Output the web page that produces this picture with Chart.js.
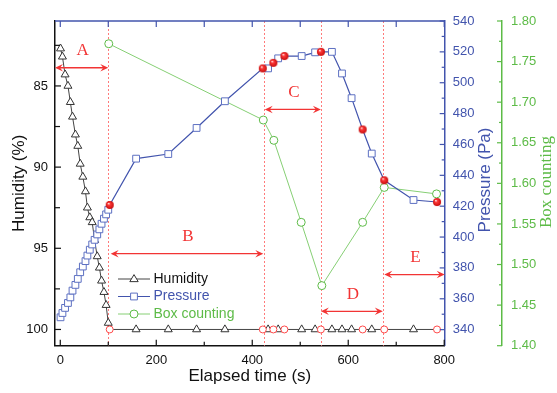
<!DOCTYPE html>
<html>
<head>
<meta charset="utf-8">
<title>Drying</title>
<script src="https://cdn.jsdelivr.net/npm/chart.js@4.4.1/dist/chart.umd.min.js"></script>
<style>
html, body { margin: 0; padding: 0; background: #fff; }
#graficoSecado { display: block; }
</style>
</head>
<body>
<canvas id="graficoSecado" width="557" height="393"></canvas>
<script>
// sensor readings: humidity and pressure share the same timestamps (s)
var sensorTime = [0.5, 4.5, 10, 16, 21, 25.5, 31.5, 36.5, 41.5, 47, 52.5, 56.5, 61.5, 66.5, 71.5, 77, 81.5, 86, 91, 95.5, 100,
                  158, 225, 284, 343, 433, 454, 503, 531, 566, 587, 607, 649, 736];
var humidity = [82.7, 83.2, 84.3, 85.0, 86.0, 86.9, 88.0, 88.7, 89.8, 90.6, 91.5, 92.5, 93.1, 93.4, 94.5, 95.5, 96.2, 97.0, 97.7, 98.5, 99.6,
                100, 100, 100, 100, 100, 100, 100, 100, 100, 100, 100, 100, 100];
var pressure = [348, 350.8, 354.1, 357.3, 360.9, 365.3, 369, 372.9, 377.2, 380.9, 384.4, 388, 391.8, 395.2, 398.2, 401.7, 405, 408.6, 411.9, 414.7, 417.7,
                450.8, 453.8, 470.7, 488, 509.3, 515.8, 517.3, 519.7, 520, 506, 490, 454.1, 424];

// moments an image was taken
var imageTime = [103, 422, 444, 467, 543, 630, 675, 785];
var imagePressure = [420.8, 509.3, 512.9, 517.3, 520, 469.7, 436.8, 422.7];
var imageHumidity = [100, 100, 100, 100, 100, 100, 100, 100];

// box counting dimension of the images
var boxTime = [101, 423, 445, 502, 545, 630, 675, 784];
var boxCounting = [1.772, 1.678, 1.653, 1.552, 1.474, 1.552, 1.595, 1.587];

// drying stages
var stageLimits = [100, 424, 543, 673];
var stageNames = ['A', 'B', 'C', 'D', 'E'];
var stageFrom = [-11, 105, 426, 543, 675];
var stageTo = [100, 423, 543, 672, 801];
var stageLevel = [509.7, 389.2, 482.7, 351.9, 375.7]; // drawn on the pressure axis

var timeTicks = [0, 200, 400, 600, 800];
var humidityTicks = [85, 90, 95, 100];
var pressureTicks = [340, 360, 380, 400, 420, 440, 460, 480, 500, 520, 540];
var boxTicks = [1.40, 1.45, 1.50, 1.55, 1.60, 1.65, 1.70, 1.75, 1.80];

var SANS = '"Liberation Sans", Arial, sans-serif';
var SERIF = '"Liberation Serif", "Times New Roman", serif';
var BLACK = '#111111';
var BLUE = '#4254ad';
var GREEN = '#5dbb47';
var RED = '#f23434';

function mergeSeries(tA, vA, tB, vB) {
    var pts = [];
    for (var i = 0; i < tA.length; i++) pts.push({x: tA[i], y: vA[i], img: false});
    for (var j = 0; j < tB.length; j++) pts.push({x: tB[j], y: vB[j], img: true});
    pts.sort(function (a, b) { return a.x - b.x; });
    return pts;
}

function toPoints(t, v) {
    return t.map(function (x, i) { return {x: x, y: v[i]}; });
}

function redBall(r) {
    var c = document.createElement('canvas');
    var s = Math.ceil(r * 2 + 2);
    c.width = s; c.height = s;
    var g = c.getContext('2d');
    var grad = g.createRadialGradient(s / 2 - r * 0.3, s / 2 - r * 0.4, r * 0.05, s / 2, s / 2, r);
    grad.addColorStop(0, '#fff2f2');
    grad.addColorStop(0.3, '#ff3a3a');
    grad.addColorStop(1, '#c80c0c');
    g.fillStyle = grad;
    g.beginPath();
    g.arc(s / 2, s / 2, r, 0, Math.PI * 2);
    g.fill();
    return c;
}

function fixedTicks(list) {
    return function (scale) {
        scale.ticks = list.map(function (v) { return {value: v}; });
    };
}

function midpoints(list) {
    var out = [];
    for (var i = 1; i < list.length; i++) out.push((list[i - 1] + list[i]) / 2);
    return out;
}

function hideImagePoints(size) {
    return function (ctx) { return ctx.raw && ctx.raw.img ? 0 : size; };
}

// symbols for the legend
function drawMarker(ctx, style, x, y, color) {
    ctx.save();
    ctx.strokeStyle = color;
    ctx.fillStyle = '#fff';
    ctx.lineWidth = 1;
    ctx.beginPath();
    if (style === 'triangle') {
        var r = 4.4;
        ctx.moveTo(x, y - r);
        ctx.lineTo(x + r * 0.866 * 1.1, y + r * 0.6);
        ctx.lineTo(x - r * 0.866 * 1.1, y + r * 0.6);
        ctx.closePath();
    } else if (style === 'rect') {
        ctx.rect(x - 3.4, y - 3.4, 6.8, 6.8);
    } else {
        ctx.arc(x, y, 4, 0, Math.PI * 2);
    }
    ctx.fill();
    ctx.stroke();
    ctx.restore();
}

function arrowHead(ctx, x, y, dir) {
    ctx.beginPath();
    ctx.moveTo(x, y);
    ctx.lineTo(x - dir * 8, y - 3.8);
    ctx.lineTo(x - dir * 5, y);
    ctx.lineTo(x - dir * 8, y + 3.8);
    ctx.closePath();
    ctx.fill();
}

var decorations = {
    id: 'decorations',
    beforeDatasetsDraw: function (chart) {
        var ctx = chart.ctx, a = chart.chartArea, xs = chart.scales.x;
        ctx.save();
        ctx.strokeStyle = '#ff7a7a';
        ctx.lineWidth = 1;
        ctx.setLineDash([2, 2]);
        stageLimits.forEach(function (t) {
            var px = Math.round(xs.getPixelForValue(t)) + 0.5;
            ctx.beginPath();
            ctx.moveTo(px, a.top);
            ctx.lineTo(px, a.bottom);
            ctx.stroke();
        });
        ctx.restore();
    },
    afterDraw: function (chart) {
        var ctx = chart.ctx, a = chart.chartArea, s = chart.scales;
        ctx.save();

        // top frame line
        ctx.strokeStyle = BLUE;
        ctx.lineWidth = 1.5;
        ctx.beginPath();
        ctx.moveTo(a.left, a.top);
        ctx.lineTo(a.right, a.top);
        ctx.stroke();

        // inward tick marks
        ctx.lineWidth = 1.2;
        function vTicks(values, y, len, color) {
            ctx.strokeStyle = color;
            values.forEach(function (v) {
                var px = s.x.getPixelForValue(v);
                ctx.beginPath();
                ctx.moveTo(px, y);
                ctx.lineTo(px, y + len);
                ctx.stroke();
            });
        }
        function hTicks(scale, values, x, len, color) {
            ctx.strokeStyle = color;
            values.forEach(function (v) {
                var py = scale.getPixelForValue(v);
                ctx.beginPath();
                ctx.moveTo(x, py);
                ctx.lineTo(x + len, py);
                ctx.stroke();
            });
        }
        vTicks(timeTicks, a.bottom, -6, BLACK);
        vTicks(midpoints(timeTicks), a.bottom, -4, BLACK);
        vTicks(timeTicks, a.top, 6, BLUE);
        vTicks(midpoints(timeTicks), a.top, 6, BLUE);
        hTicks(s.yH, humidityTicks, a.left, 6, BLACK);
        hTicks(s.yH, [82.5].concat(midpoints(humidityTicks)), a.left, 5, BLACK);
        hTicks(s.yP, pressureTicks, a.right, -5, BLUE);
        hTicks(s.yP, midpoints(pressureTicks), a.right, -3, BLUE);
        hTicks(s.yB, boxTicks, s.yB.left, -5, GREEN);
        hTicks(s.yB, midpoints(boxTicks), s.yB.left, -3, GREEN);

        // stage arrows
        ctx.strokeStyle = RED;
        ctx.fillStyle = RED;
        ctx.lineWidth = 1.3;
        ctx.font = '17px ' + SERIF;
        ctx.textAlign = 'center';
        ctx.textBaseline = 'middle';
        stageNames.forEach(function (name, i) {
            var x1 = s.x.getPixelForValue(stageFrom[i]);
            var x2 = s.x.getPixelForValue(stageTo[i]);
            var y = s.yP.getPixelForValue(stageLevel[i]);
            ctx.beginPath();
            ctx.moveTo(x1 + 4, y);
            ctx.lineTo(x2 - 4, y);
            ctx.stroke();
            arrowHead(ctx, x1, y, -1);
            arrowHead(ctx, x2, y, 1);
            ctx.fillText(name, (x1 + x2) / 2 + 1, y - 17);
        });

        // right axis titles, reading bottom to top
        ctx.textBaseline = 'middle';
        ctx.save();
        ctx.translate(s.yP.right - 17, 180);
        ctx.rotate(-Math.PI / 2);
        ctx.fillStyle = BLUE;
        ctx.font = '17px ' + SANS;
        ctx.fillText('Pressure (Pa)', 0, 0);
        ctx.restore();
        ctx.save();
        ctx.translate(s.yB.right - 10, 182);
        ctx.rotate(-Math.PI / 2);
        ctx.fillStyle = GREEN;
        ctx.font = '17px ' + SERIF;
        ctx.fillText('Box counting', 0, 0);
        ctx.restore();

        // legend
        var items = [
            {text: 'Humidity', style: 'triangle', line: '#444', mark: '#333', color: BLACK},
            {text: 'Pressure', style: 'rect', line: BLUE, mark: '#5d70c2', color: BLUE},
            {text: 'Box counting', style: 'circle', line: '#86cf74', mark: GREEN, color: GREEN}
        ];
        var lx = a.left + 63, ly = a.top + 258;
        ctx.font = '14px ' + SANS;
        ctx.textAlign = 'left';
        items.forEach(function (it, i) {
            var y = ly + i * 17.5;
            ctx.strokeStyle = it.line;
            ctx.lineWidth = 1;
            ctx.beginPath();
            ctx.moveTo(lx, y);
            ctx.lineTo(lx + 32, y);
            ctx.stroke();
            drawMarker(ctx, it.style, lx + 16, y, it.mark);
            ctx.fillStyle = it.color;
            ctx.fillText(it.text, lx + 35.5, y);
        });

        ctx.restore();
    }
};

var ctx = document.getElementById('graficoSecado').getContext('2d');
var chart = new Chart(ctx, {
    type: 'scatter',
    data: {
        datasets: [{
            label: 'Image (pressure)',
            data: toPoints(imageTime, imagePressure),
            yAxisID: 'yP',
            pointStyle: redBall(4),
            pointRadius: 4,
            showLine: false,
            order: 0
        }, {
            label: 'Image (humidity)',
            data: toPoints(imageTime, imageHumidity),
            yAxisID: 'yH',
            pointStyle: 'circle',
            pointRadius: 3.5,
            pointBorderWidth: 1,
            pointBorderColor: '#ff4a4a',
            pointBackgroundColor: '#fff',
            showLine: false,
            order: 1
        }, {
            label: 'Pressure',
            data: mergeSeries(sensorTime, pressure, imageTime, imagePressure),
            yAxisID: 'yP',
            showLine: true,
            borderColor: BLUE,
            borderWidth: 1.2,
            pointStyle: 'rect',
            pointRadius: hideImagePoints(4.8),
            pointBorderWidth: 1,
            pointBorderColor: '#5d70c2',
            pointBackgroundColor: '#fff',
            order: 2
        }, {
            label: 'Humidity',
            data: mergeSeries(sensorTime, humidity, imageTime, imageHumidity),
            yAxisID: 'yH',
            showLine: true,
            borderColor: '#444',
            borderWidth: 1,
            pointStyle: 'triangle',
            pointRadius: hideImagePoints(4.6),
            pointBorderWidth: 1,
            pointBorderColor: '#333',
            pointBackgroundColor: '#fff',
            order: 3
        }, {
            label: 'Box counting',
            data: toPoints(boxTime, boxCounting),
            yAxisID: 'yB',
            showLine: true,
            borderColor: '#86cf74',
            borderWidth: 1,
            pointStyle: 'circle',
            pointRadius: 4,
            pointBorderWidth: 1,
            pointBorderColor: GREEN,
            pointBackgroundColor: '#fff',
            order: 4
        }]
    },
    options: {
        responsive: false,
        animation: false,
        events: [],
        layout: { padding: { top: 21, left: 0, right: 0, bottom: 0 } },
        plugins: {
            legend: { display: false },
            tooltip: { enabled: false }
        },
        scales: {
            x: {
                type: 'linear',
                position: 'bottom',
                min: -11,
                max: 801,
                afterBuildTicks: fixedTicks(timeTicks),
                afterFit: function (scale) { scale.height = 47.3; },
                grid: { display: false, drawTicks: false },
                border: { display: true, color: BLACK, width: 1.5 },
                ticks: { padding: 7, color: BLACK, font: { size: 13, family: SANS }, maxRotation: 0 },
                title: { display: true, text: 'Elapsed time (s)', color: BLACK, font: { size: 17, family: SANS }, padding: { top: 0, bottom: 6 } }
            },
            yH: {
                type: 'linear',
                position: 'left',
                reverse: true,
                min: 81,
                max: 101,
                afterBuildTicks: fixedTicks(humidityTicks),
                afterFit: function (scale) { scale.width = 55; },
                grid: { display: false, drawTicks: false },
                border: { display: true, color: BLACK, width: 1.5 },
                ticks: { padding: 7, color: BLACK, font: { size: 13, family: SANS } },
                title: { display: true, text: 'Humidity (%)', color: BLACK, font: { size: 17, family: SANS }, padding: { top: 9, bottom: 0 } }
            },
            yP: {
                type: 'linear',
                position: 'right',
                weight: 1,
                min: 329.6,
                max: 540,
                afterBuildTicks: fixedTicks(pressureTicks),
                afterFit: function (scale) { scale.width = 57.3; },
                grid: { display: false, drawTicks: false },
                border: { display: true, color: BLUE, width: 1.5 },
                ticks: { padding: 8, color: BLUE, font: { size: 13, family: SANS } }
            },
            yB: {
                type: 'linear',
                position: 'right',
                weight: 2,
                min: 1.40,
                max: 1.80,
                afterBuildTicks: fixedTicks(boxTicks),
                afterFit: function (scale) { scale.width = 55; },
                grid: { display: false, drawTicks: false },
                border: { display: true, color: GREEN, width: 1.5 },
                ticks: {
                    padding: 9,
                    color: GREEN,
                    font: { size: 13, family: SANS },
                    callback: function (v) { return Number(v).toFixed(2); }
                }
            }
        }
    },
    plugins: [decorations]
});
</script>
</body>
</html>
